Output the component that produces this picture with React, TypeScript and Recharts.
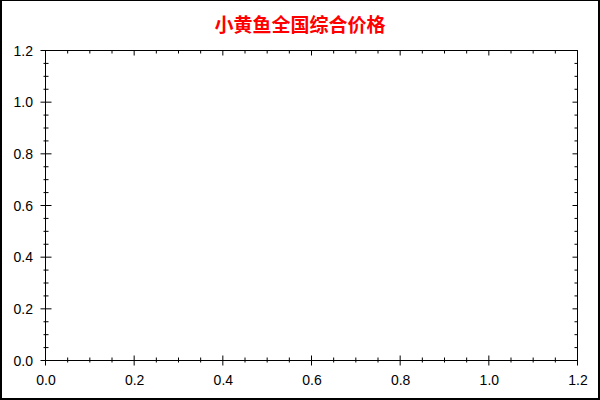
import React from "react";
import { LineChart, Line, XAxis, YAxis } from "recharts";

const TITLE = "小黄鱼全国综合价格";
const xTicks = [0, 0.05, 0.1, 0.15, 0.2, 0.25, 0.3, 0.35, 0.4, 0.45, 0.5, 0.55, 0.6, 0.65, 0.7, 0.75, 0.8, 0.85, 0.9, 0.95, 1.0, 1.05, 1.1, 1.15, 1.2];
const yTicks = [0, 0.05, 0.1, 0.15, 0.2, 0.25, 0.3, 0.35, 0.4, 0.45, 0.5, 0.55, 0.6, 0.65, 0.7, 0.75, 0.8, 0.85, 0.9, 0.95, 1.0, 1.05, 1.1, 1.15, 1.2];
// The reference chart has no plotted values: one placeholder row with an empty value.
const seriesData: { x: number; y: number | null }[] = [{ x: 0, y: null }];

const FONT = '"Liberation Sans", Arial, sans-serif';
const isMajor = (v: number) => Math.round(v * 100) % 20 === 0;

const BottomTick = (props: any) => {
  const { x, y, payload } = props;
  const v = payload.value;
  const major = isMajor(v);
  return (
    <g>
      <line x1={x} x2={x} y1={y - (major ? 5 : 3)} y2={y + (major ? 5 : 2)} stroke="#000" strokeWidth={1} />
      {major && (
        <text x={x + 0.5} y={y + 19} textAnchor="middle" dominantBaseline="central" fontSize={14} fontFamily={FONT} fill="#000">
          {v.toFixed(1)}
        </text>
      )}
    </g>
  );
};

const LeftTick = (props: any) => {
  const { x, y, payload } = props;
  const v = payload.value;
  const major = isMajor(v);
  return (
    <g>
      <line x1={x - (major ? 5 : 2)} x2={x + (major ? 6 : 3)} y1={y} y2={y} stroke="#000" strokeWidth={1} />
      {major && (
        <text x={x - 12.5} y={y} textAnchor="end" dominantBaseline="central" fontSize={14} fontFamily={FONT} fill="#000">
          {v.toFixed(1)}
        </text>
      )}
    </g>
  );
};

const TopTick = (props: any) => {
  const { x, y, payload } = props;
  const major = isMajor(payload.value);
  return <line x1={x} x2={x} y1={y} y2={y + (major ? 5 : 3)} stroke="#000" strokeWidth={1} />;
};

const RightTick = (props: any) => {
  const { x, y, payload } = props;
  const major = isMajor(payload.value);
  return <line x1={x} x2={x - (major ? 5 : 3)} y1={y} y2={y} stroke="#000" strokeWidth={1} />;
};

export default function App() {
  return (
    <div
      style={{
        position: "absolute",
        left: 0,
        top: 0,
        width: 600,
        height: 400,
        background: "#fff",
        overflow: "hidden",
      }}
    >
      <div
        style={{
          position: "absolute",
          left: 0,
          top: 0,
          width: 600,
          height: 400,
          boxSizing: "border-box",
          borderLeft: "2px solid #000",
          borderTop: "1px solid #000",
          borderRight: "2px solid #000",
          borderBottom: "2px solid #000",
          pointerEvents: "none",
          zIndex: 2,
        }}
      />
      <div
        style={{
          position: "absolute",
          left: 0,
          top: 12,
          width: 600,
          height: 24,
          lineHeight: "24px",
          textAlign: "center",
          color: "#ff0000",
          fontWeight: "bold",
          fontSize: 19,
          fontFamily: '"Noto Sans CJK SC", sans-serif',
          zIndex: 1,
        }}
      >
        {TITLE}
      </div>
      <div style={{ position: "absolute", left: 0, top: 0 }}>
        <LineChart
          width={600}
          height={400}
          data={seriesData}
          margin={{ top: 0, right: 0, bottom: 0, left: 0 }}
        >
          <XAxis
            xAxisId="bottom"
            dataKey="x"
            type="number"
            domain={[0, 1.2]}
            ticks={xTicks}
            interval={0}
            allowDataOverflow
            height={39.5}
            tickSize={0}
            tickMargin={0}
            tickLine={false}
            axisLine={{ stroke: "#000", strokeWidth: 1 }}
            tick={<BottomTick />}
          />
          <XAxis
            xAxisId="top"
            orientation="top"
            dataKey="x"
            type="number"
            domain={[0, 1.2]}
            ticks={xTicks}
            interval={0}
            allowDataOverflow
            height={50.5}
            tickSize={0}
            tickMargin={0}
            tickLine={false}
            axisLine={{ stroke: "#000", strokeWidth: 1 }}
            tick={<TopTick />}
          />
          <YAxis
            yAxisId="left"
            type="number"
            domain={[0, 1.2]}
            ticks={yTicks}
            interval={0}
            allowDataOverflow
            width={45.5}
            tickSize={0}
            tickMargin={0}
            tickLine={false}
            axisLine={{ stroke: "#000", strokeWidth: 1 }}
            tick={<LeftTick />}
          />
          <YAxis
            yAxisId="right"
            orientation="right"
            type="number"
            domain={[0, 1.2]}
            ticks={yTicks}
            interval={0}
            allowDataOverflow
            width={22.5}
            tickSize={0}
            tickMargin={0}
            tickLine={false}
            axisLine={{ stroke: "#000", strokeWidth: 1 }}
            tick={<RightTick />}
          />
          <Line
            xAxisId="bottom"
            yAxisId="left"
            dataKey="y"
            stroke="#0000ff"
            dot={false}
            isAnimationActive={false}
          />
        </LineChart>
      </div>
    </div>
  );
}
